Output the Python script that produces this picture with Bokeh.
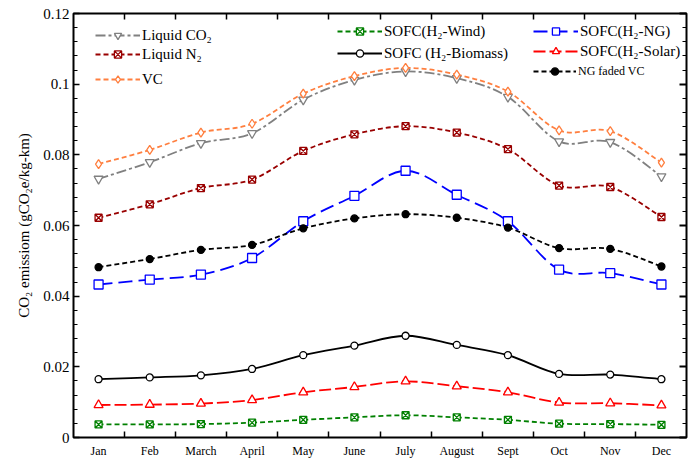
import numpy as np
from bokeh.plotting import figure
from bokeh.models import LinearAxis, FixedTicker, Legend, LegendItem
from bokeh.embed import file_html
from bokeh.resources import INLINE

# ---------------- data ----------------
months = ["Jan", "Feb", "March", "April", "May", "June", "July",
          "August", "Sept", "Oct", "Nov", "Dec"]
y_ticks = [0, 0.02, 0.04, 0.06, 0.08, 0.1, 0.12]
y_tick_labels = ["0", "0.02", "0.04", "0.06", "0.08", "0.1", "0.12"]

liquid_co2 = [0.0732, 0.0779, 0.0833, 0.0861, 0.0956, 0.1012, 0.1036, 0.1017, 0.0964, 0.0838, 0.0836, 0.0739]
liquid_n2 = [0.0622, 0.0660, 0.0706, 0.0730, 0.0811, 0.0858, 0.0881, 0.0863, 0.0816, 0.0713, 0.0709, 0.0624]
vc = [0.0774, 0.0814, 0.0863, 0.0888, 0.0973, 0.1023, 0.1046, 0.1027, 0.0979, 0.0869, 0.0867, 0.0778]
sofc_wind = [0.0037, 0.0037, 0.0038, 0.0042, 0.0050, 0.0057, 0.0063, 0.0057, 0.0050, 0.0039, 0.0038, 0.0036]
sofc_biomass = [0.0165, 0.0170, 0.0176, 0.0194, 0.0233, 0.0260, 0.0288, 0.0262, 0.0233, 0.0180, 0.0178, 0.0165]
sofc_ng = [0.0433, 0.0447, 0.0461, 0.0508, 0.0612, 0.0684, 0.0755, 0.0687, 0.0612, 0.0475, 0.0465, 0.0433]
sofc_solar = [0.0092, 0.0093, 0.0096, 0.0106, 0.0128, 0.0143, 0.0159, 0.0145, 0.0128, 0.0099, 0.0097, 0.0091]
ng_faded_vc = [0.0482, 0.0505, 0.0531, 0.0545, 0.0592, 0.0620, 0.0632, 0.0622, 0.0594, 0.0536, 0.0534, 0.0484]

FONT = "Liberation Serif"
x = list(range(len(months)))

p = figure(width=692, height=460, x_range=(-0.49, len(months) - 0.51), y_range=(0, 0.12),
           output_backend="svg", toolbar_location=None,
           x_axis_location=None, y_axis_location=None,
           min_border_left=73, min_border_right=6, min_border_top=13, min_border_bottom=19)
p.background_fill_color = "white"
p.border_fill_color = "white"
p.outline_line_color = "black"
p.outline_line_width = 2
for g in p.grid:
    g.visible = False

# ---------------- axes ----------------
def x_ticker():
    return FixedTicker(ticks=x, minor_ticks=[i + 0.5 for i in range(len(months) - 1)])

def y_ticker():
    return FixedTicker(ticks=y_ticks, minor_ticks=[round(0.004 * k, 3) for k in range(31)])

xb = LinearAxis(ticker=x_ticker(),
                major_label_overrides={i: m for i, m in enumerate(months)},
                axis_line_color=None, major_tick_in=0, major_tick_out=0,
                minor_tick_in=6, minor_tick_out=0, minor_tick_line_width=1.5,
                major_label_standoff=6, major_label_text_font=FONT,
                major_label_text_font_size="12px", major_label_text_color="black")
p.add_layout(xb, "below")

xt = LinearAxis(ticker=x_ticker(), axis_line_color=None, major_tick_in=0, major_tick_out=0,
                minor_tick_in=6, minor_tick_out=0, minor_tick_line_width=1.5,
                major_label_standoff=0,
                major_label_overrides={i: "" for i in x})
p.add_layout(xt, "above")

yl = LinearAxis(ticker=y_ticker(),
                major_label_overrides={t: l for t, l in zip(y_ticks, y_tick_labels)},
                axis_line_color=None, major_tick_in=6, major_tick_out=0, major_tick_line_width=1.5,
                minor_tick_in=4, minor_tick_out=0, minor_tick_line_width=1.2,
                major_label_standoff=4, major_label_text_font=FONT,
                major_label_text_font_size="15px", major_label_text_color="black",
                axis_label="CO\u2082 emissiom (gCO\u2082e/kg-km)", axis_label_text_font=FONT,
                axis_label_text_font_size="15px", axis_label_text_font_style="normal",
                axis_label_text_color="black", axis_label_standoff=8)
p.add_layout(yl, "left")

yr = LinearAxis(ticker=y_ticker(), axis_line_color=None, major_tick_in=7, major_tick_out=0,
                major_tick_line_width=2, minor_tick_in=4, minor_tick_out=0, minor_tick_line_width=1.2,
                major_label_standoff=0,
                major_label_overrides={t: "" for t in y_ticks})
p.add_layout(yr, "right")

# ---------------- series ----------------
def smooth_bezier(vals, **kw):
    xs = np.arange(len(vals), dtype=float)
    ys = np.asarray(vals, dtype=float)
    n = len(ys)
    i = np.arange(n - 1)
    prev = np.maximum(i - 1, 0)
    nxt = np.minimum(i + 2, n - 1)
    cx0 = xs[i] + (xs[i + 1] - xs[prev]) / 6.0
    cy0 = ys[i] + (ys[i + 1] - ys[prev]) / 6.0
    cx1 = xs[i + 1] - (xs[nxt] - xs[i]) / 6.0
    cy1 = ys[i + 1] - (ys[nxt] - ys[i]) / 6.0
    return p.bezier(x0=xs[i], y0=ys[i], x1=xs[i + 1], y1=ys[i + 1],
                    cx0=cx0, cy0=cy0, cx1=cx1, cy1=cy1, **kw)

series = [
    # name, values, color, dash, marker, size, fill
    ("Liquid CO\u2082", liquid_co2, "#808080", "10 3 3 3", "inverted_triangle", 9, "white"),
    ("Liquid N\u2082", liquid_n2, "#990000", "5 3", "square_x", 7, "white"),
    ("VC", vc, "#FF7F3F", "5 3", "diamond", 9, "white"),
    ("SOFC(H\u2082-Wind)", sofc_wind, "#008000", "5 3", "square_x", 7, "white"),
    ("SOFC (H\u2082-Biomass)", sofc_biomass, "black", "solid", "circle", 7, "white"),
    ("SOFC(H\u2082-NG)", sofc_ng, "#0000FF", "14 6", "square", 9, "white"),
    ("SOFC(H\u2082-Solar)", sofc_solar, "#FF0000", "12 4", "triangle", 9, "white"),
    ("NG faded VC", ng_faded_vc, "black", "5 3", "circle", 7, "black"),
]

items = {}
for name, vals, color, dash, marker, size, fill in series:
    smooth_bezier(vals, line_color=color, line_width=1.8, line_dash=dash)
    # legend-only proxy line, placed outside the visible ranges
    proxy = p.line(x=[-10, -9], y=[-1, -1], line_color=color, line_width=1.8, line_dash=dash)
    sc = p.scatter(x=x, y=vals, marker=marker, size=size, line_color=color,
                   fill_color=fill, line_width=1.3)
    items[name] = LegendItem(label=name, renderers=[proxy, sc])


def add_legend(names, loc, font_size="15px", spacing=1, glyph_width=45):
    lg = Legend(items=[items[n] for n in names], location=loc, orientation="vertical",
                background_fill_alpha=0, border_line_color=None, padding=0, margin=0,
                spacing=spacing, glyph_width=glyph_width, glyph_height=18, label_height=18,
                label_standoff=2, label_text_font=FONT, label_text_font_size=font_size,
                label_text_color="black")
    p.add_layout(lg)


add_legend(["Liquid CO\u2082", "Liquid N\u2082"], (22, 374), spacing=1)
add_legend(["VC"], (22, 349))
add_legend(["SOFC(H\u2082-Wind)", "SOFC (H\u2082-Biomass)"], (264, 375), spacing=4)
add_legend(["SOFC(H\u2082-NG)", "SOFC(H\u2082-Solar)"], (460, 377), spacing=2)
add_legend(["NG faded VC"], (460, 357), font_size="12px", glyph_width=43)

open("out.html", "w").write(file_html(p, INLINE))
